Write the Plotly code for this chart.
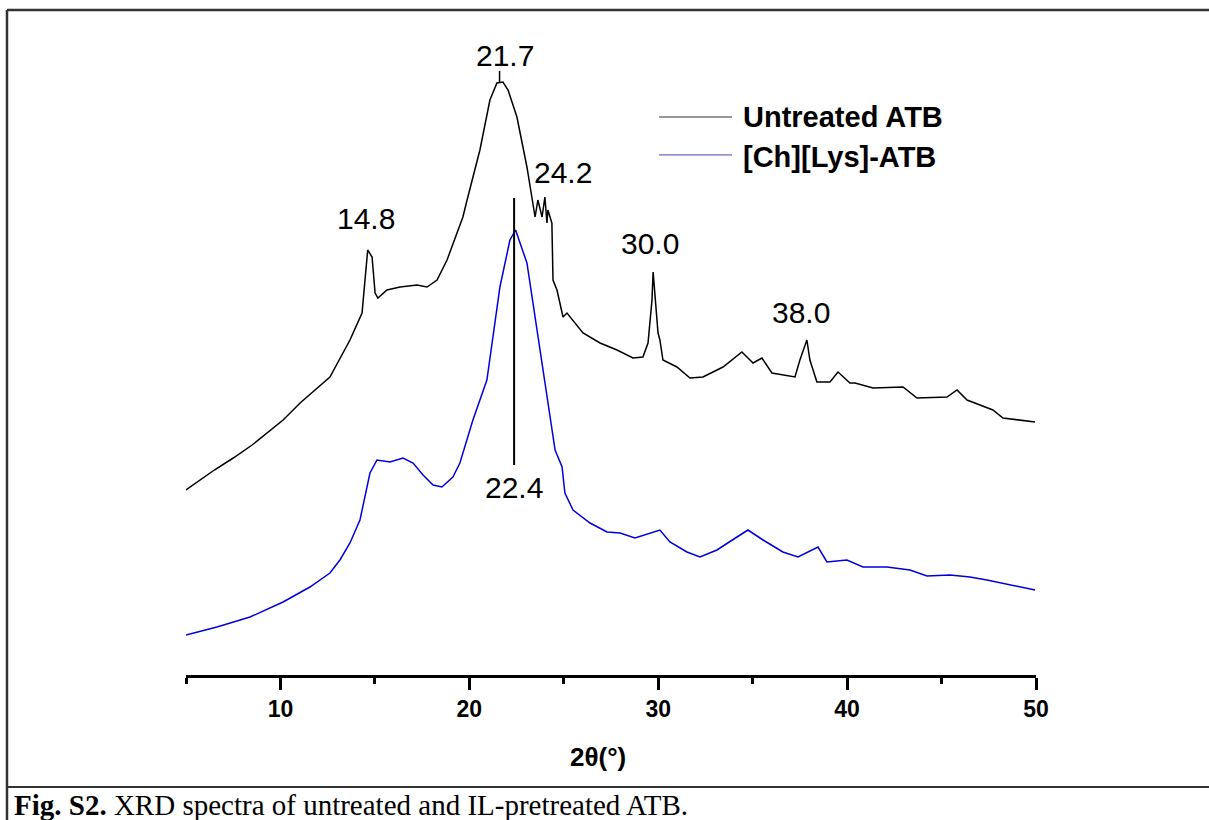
import plotly.graph_objects as go

# Untreated ATB (2theta in degrees, intensity in arbitrary units)
untreated_2theta = [5.0, 6.5, 7.5, 8.5, 10.14, 11.04, 12.62, 13.68, 14.32, 14.48, 14.62, 14.85, 15.01, 15.16, 15.64,
                    16.33, 17.23, 17.76, 18.29, 18.82, 19.35, 19.66, 19.88, 20.56, 21.09, 21.46, 21.78,
                    22.05, 22.52, 23.05, 23.48, 23.63, 23.85, 24.00, 24.11, 24.16, 24.37, 24.43, 24.64,
                    24.96, 25.17, 26.02, 26.92, 27.82, 28.66, 29.19, 29.46, 29.67, 29.73, 29.88, 29.99,
                    30.09, 30.25, 30.99, 31.68, 32.37, 33.43, 34.43, 35.02, 35.49, 36.02, 37.24, 37.5,
                    37.87, 38.03, 38.40, 39.09, 39.52, 40.15, 40.42, 41.37, 42.96, 43.70, 45.29, 45.82,
                    46.35, 47.72, 48.25, 49.15, 49.95]
untreated_int = [185, 205, 217, 230, 255, 272, 298, 335, 362, 395, 425, 418, 382, 377, 385,
                 388, 390, 388, 395, 415, 442, 458, 475, 525, 575, 592, 593,
                 585, 558, 508, 458, 475, 458, 478, 452, 465, 452, 395, 385,
                 358, 362, 342, 332, 325, 317, 318, 332, 375, 403, 365, 342,
                 335, 315, 308, 297, 298, 308, 323, 312, 317, 302, 298, 315,
                 335, 315, 293, 293, 303, 292, 292, 287, 288, 277, 278, 285,
                 275, 265, 257, 255, 253]

# [Ch][Lys]-ATB
treated_2theta = [5.0, 6.64, 8.39, 10.14, 11.56, 12.62, 13.15, 13.68, 14.21, 14.74, 15.11, 15.80, 16.49,
                  17.02, 17.55, 18.08, 18.55, 19.13, 19.50, 19.88, 20.19, 20.93, 21.62, 22.15, 22.45,
                  23.05, 23.58, 24.11, 24.54, 24.91, 25.06, 25.49, 26.39, 27.29, 27.98, 28.77, 30.09,
                  30.62, 31.52, 32.21, 33.11, 34.17, 34.75, 35.55, 36.60, 37.40, 38.46, 38.93, 39.99,
                  40.84, 42.11, 43.33, 44.23, 45.45, 46.50, 47.40, 48.62, 49.95]
treated_int = [40, 48, 58, 73, 88, 102, 115, 132, 155, 202, 215, 213, 217,
               212, 200, 190, 188, 198, 212, 235, 255, 295, 388, 435, 445,
               412, 345, 278, 225, 208, 182, 165, 152, 143, 142, 137, 145,
               133, 123, 118, 125, 138, 145, 135, 123, 118, 128, 113, 115,
               108, 108, 105, 99, 100, 98, 95, 90, 85]

# Peak labels: text, x, y
peak_labels = ["21.7", "14.8", "24.2", "30.0", "38.0", "22.4"]
peak_label_x = [21.89, 14.53, 24.96, 29.56, 37.56, 22.36]
peak_label_y = [620, 457, 503, 432, 363, 188]

x_ticks = [10, 20, 30, 40, 50]
x_minor = [5, 15, 25, 35, 45]

fig = go.Figure()
fig.add_trace(go.Scatter(x=untreated_2theta, y=untreated_int, mode="lines",
                         line=dict(color="#000000", width=1.5), name="Untreated ATB",
                         showlegend=False))
fig.add_trace(go.Scatter(x=treated_2theta, y=treated_int, mode="lines",
                         line=dict(color="#0000dd", width=1.5), name="[Ch][Lys]-ATB",
                         showlegend=False))

for t, xx, yy in zip(peak_labels, peak_label_x, peak_label_y):
    fig.add_annotation(x=xx, y=yy, text=t, showarrow=False,
                       font=dict(family="Liberation Sans, Arial", size=30, color="black"),
                       xanchor="center", yanchor="middle")

# marker lines for 21.7 and 22.4 peaks
fig.add_shape(type="line", xref="x", yref="y", x0=21.6, x1=21.6, y0=592, y1=604,
              line=dict(color="black", width=1.5))
fig.add_shape(type="line", xref="x", yref="y", x0=22.37, x1=22.37, y0=210, y1=477,
              line=dict(color="black", width=2))

# legend (drawn manually)
fig.add_shape(type="line", xref="paper", yref="paper", x0=0.5565, x1=0.6424, y0=0.8391, y1=0.8391,
              line=dict(color="#333333", width=1.2))
fig.add_shape(type="line", xref="paper", yref="paper", x0=0.5565, x1=0.6424, y0=0.782, y1=0.782,
              line=dict(color="#6a6ab8", width=1.2))
fig.add_annotation(xref="paper", yref="paper", x=0.6529, y=0.8391, text="<b>Untreated ATB</b>",
                   showarrow=False, xanchor="left", yanchor="middle",
                   font=dict(family="Liberation Sans, Arial", size=29, color="black"))
fig.add_annotation(xref="paper", yref="paper", x=0.6529, y=0.779, text="<b>[Ch][Lys]-ATB</b>",
                   showarrow=False, xanchor="left", yanchor="middle",
                   font=dict(family="Liberation Sans, Arial", size=29, color="black"))

# axis title
fig.add_annotation(xref="paper", yref="paper", x=0.485, y=-0.123, text="<b>2θ(°)</b>",
                   showarrow=False, xanchor="center", yanchor="middle",
                   font=dict(family="Liberation Sans, Arial", size=26, color="black"))

# caption
fig.add_annotation(xref="paper", yref="paper", x=-0.2047, y=-0.1955,
                   text="<b>Fig. S2.</b> XRD spectra of untreated and IL-pretreated ATB.",
                   showarrow=False, xanchor="left", yanchor="middle",
                   font=dict(family="Liberation Serif, Times New Roman", size=29, color="black"))

# frame
frame_col = "#333333"
fig.add_shape(type="line", xref="paper", yref="paper", x0=-0.2106, x1=1.21, y0=1.0, y1=1.0,
              line=dict(color=frame_col, width=2.5))
fig.add_shape(type="line", xref="paper", yref="paper", x0=-0.2106, x1=-0.2106, y0=1.0, y1=-0.25,
              line=dict(color=frame_col, width=2.5))
fig.add_shape(type="line", xref="paper", yref="paper", x0=-0.2106, x1=1.21, y0=-0.1684, y1=-0.1684,
              line=dict(color=frame_col, width=2))

fig.update_layout(
    width=1209, height=820,
    margin=dict(l=186, r=173, t=10, b=145),
    paper_bgcolor="white", plot_bgcolor="white",
    showlegend=False,
    xaxis=dict(range=[5, 50], showgrid=False, zeroline=False,
               showline=True, linecolor="black", linewidth=2.5,
               ticks="outside", tickvals=x_ticks, ticklen=12, tickwidth=2.5, tickcolor="black",
               tickfont=dict(family="Liberation Sans, Arial", size=23, color="black", weight="bold"),
               minor=dict(tickvals=x_minor, ticks="outside", ticklen=6, tickwidth=2.5, tickcolor="black")),
    yaxis=dict(range=[0, 665], visible=False, showgrid=False, zeroline=False),
)

fig.write_html("out.html", config={"displayModeBar": False},
               post_script="document.body.style.margin='0';document.body.style.overflow='hidden';")
